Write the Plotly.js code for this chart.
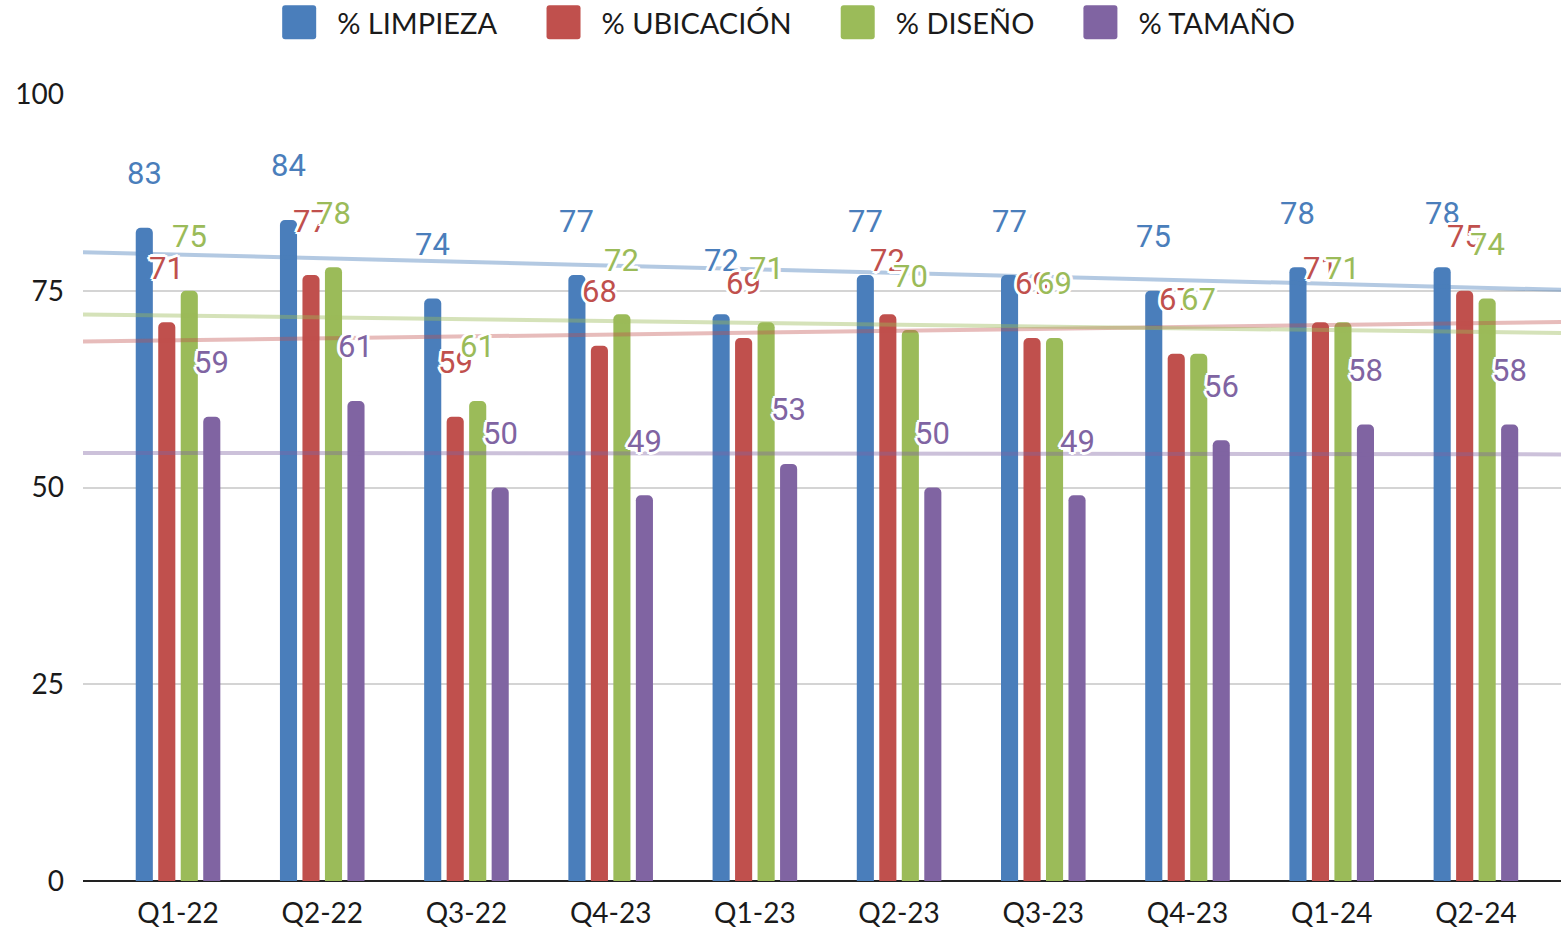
<!DOCTYPE html>
<html>
<head>
<meta charset="utf-8">
<script src="https://cdn.plot.ly/plotly-3.0.1.min.js"></script>
<style>
  html, body { margin: 0; padding: 0; background: #ffffff; }
  #chart { width: 1561px; height: 932px; }
</style>
</head>
<body>
<div id="chart"></div>
<script>
// ---------- DATA ----------
const categories = ["Q1-22", "Q2-22", "Q3-22", "Q4-23", "Q1-23", "Q2-23", "Q3-23", "Q4-23", "Q1-24", "Q2-24"];
const seriesNames = ["% LIMPIEZA", "% UBICACIÓN", "% DISEÑO", "% TAMAÑO"];
const limpieza  = [83, 84, 74, 77, 72, 77, 77, 75, 78, 78];
const ubicacion = [71, 77, 59, 68, 69, 72, 69, 67, 71, 75];
const diseno    = [75, 78, 61, 72, 71, 70, 69, 67, 71, 74];
const tamano    = [59, 61, 50, 49, 53, 50, 49, 56, 58, 58];
const yTickVals = [0, 25, 50, 75, 100];

// ---------- STYLE ----------
const colors = ["#4A7EBB", "#C0504D", "#9BBB59", "#8064A2"];
const trendColors = ["rgba(74,126,187,0.42)", "rgba(192,80,77,0.38)", "rgba(155,187,89,0.42)", "rgba(128,100,162,0.40)"];
const allSeries = [limpieza, ubicacion, diseno, tamano];
const xIdx = categories.map((_, i) => i);
const xRange = [-0.659, 9.59];
const bargap = 0.376;
const slot = (1 - bargap) / allSeries.length;

const traces = [];
allSeries.forEach((vals, s) => {
  traces.push({
    type: "bar",
    name: seriesNames[s],
    x: xIdx,
    y: vals,
    marker: { color: colors[s], cornerradius: 5, line: { width: 0 } },
    hoverinfo: "y+name"
  });
});

// linear trend lines (least squares) over the whole axis range
allSeries.forEach((vals, s) => {
  const n = vals.length;
  const mx = xIdx.reduce((a, b) => a + b, 0) / n;
  const my = vals.reduce((a, b) => a + b, 0) / n;
  let sxy = 0, sxx = 0;
  for (let i = 0; i < n; i++) { sxy += (xIdx[i] - mx) * (vals[i] - my); sxx += (xIdx[i] - mx) ** 2; }
  const slope = sxy / sxx;
  const f = x => my + slope * (x - mx);
  traces.push({
    type: "scatter",
    mode: "lines",
    x: xRange,
    y: xRange.map(f),
    line: { color: trendColors[s], width: 4 },
    showlegend: false,
    hoverinfo: "skip"
  });
});

// data labels
const shadow = "-2px -2px 0 #fff, 2px -2px 0 #fff, -2px 2px 0 #fff, 2px 2px 0 #fff, 0 2px 0 #fff, 0 -2px 0 #fff, 2px 0 0 #fff, -2px 0 0 #fff, 0 3px 0 #fff, 0 -3px 0 #fff, 3px 0 0 #fff, -3px 0 0 #fff";
const annotations = [];
allSeries.forEach((vals, s) => {
  const off = -((1 - bargap) / 2) + slot * (s + 0.5);
  vals.forEach((v, i) => {
    annotations.push({
      xref: "x", yref: "y",
      x: i + off, y: v,
      text: String(v),
      showarrow: false,
      xanchor: "center", yanchor: "middle",
      yshift: 54,
      font: { family: "Roboto, sans-serif", size: 31, color: colors[s], shadow: shadow }
    });
  });
});

const layout = {
  width: 1561, height: 932,
  margin: { l: 83, r: 0, t: 94, b: 51 },
  paper_bgcolor: "#ffffff", plot_bgcolor: "#ffffff",
  barmode: "group",
  bargap: bargap,
  bargroupgap: 0.24,
  showlegend: true,
  legend: {
    orientation: "h",
    x: 0.105, xanchor: "left",
    y: 1.12, yanchor: "top",
    font: { family: "Lato, sans-serif", size: 29, color: "#1a1a1a" },
    itemwidth: 89,
    bgcolor: "rgba(0,0,0,0)",
    traceorder: "normal",
    itemclick: false, itemdoubleclick: false
  },
  xaxis: {
    range: xRange,
    tickvals: xIdx,
    ticktext: categories,
    showgrid: false,
    zeroline: false,
    showline: false,
    ticks: "",
    ticklabelstandoff: 13,
    tickfont: { family: "Lato, sans-serif", size: 28, color: "#1a1a1a" },
    fixedrange: true
  },
  yaxis: {
    range: [0, 100],
    tickvals: yTickVals,
    ticktext: yTickVals.map(String),
    showgrid: true,
    gridcolor: "#d4d4d4",
    gridwidth: 2,
    zeroline: true,
    zerolinecolor: "#222222",
    zerolinewidth: 2,
    showline: false,
    ticks: "",
    ticklabelstandoff: 18,
    tickfont: { family: "Lato, sans-serif", size: 28, color: "#1a1a1a" },
    fixedrange: true
  },
  annotations: annotations
};

const gd = document.getElementById("chart");
Plotly.newPlot(gd, traces, layout, { displayModeBar: false, staticPlot: true }).then(() => {
  // enlarge legend swatches to big rounded squares placed before the text
  const items = gd.querySelectorAll(".legend .traces");
  items.forEach(item => {
    const path = item.querySelector(".legendpoints path");
    const text = item.querySelector("text.legendtext");
    if (!path || !text) return;
    path.setAttribute("d", "M-17,-14A3,3 0 0 1 -14,-17H14A3,3 0 0 1 17,-14V14A3,3 0 0 1 14,17H-14A3,3 0 0 1 -17,14Z");
    path.setAttribute("transform", "");
    const pr = path.getBoundingClientRect();
    const tr = text.getBoundingClientRect();
    const wantRight = tr.left - 21;
    const dx = wantRight - pr.right;
    path.setAttribute("transform", "translate(" + dx + ",0)");
  });
  // nudge the legend block up a few pixels without changing the plot margins
  const leg = gd.querySelector("g.legend");
  if (leg) {
    const m = /translate\(\s*([-\d.]+)[ ,]+([-\d.]+)\s*\)/.exec(leg.getAttribute("transform") || "");
    if (m) leg.setAttribute("transform", "translate(" + m[1] + "," + (parseFloat(m[2]) - 3) + ")");
  }
});
</script>
</body>
</html>
